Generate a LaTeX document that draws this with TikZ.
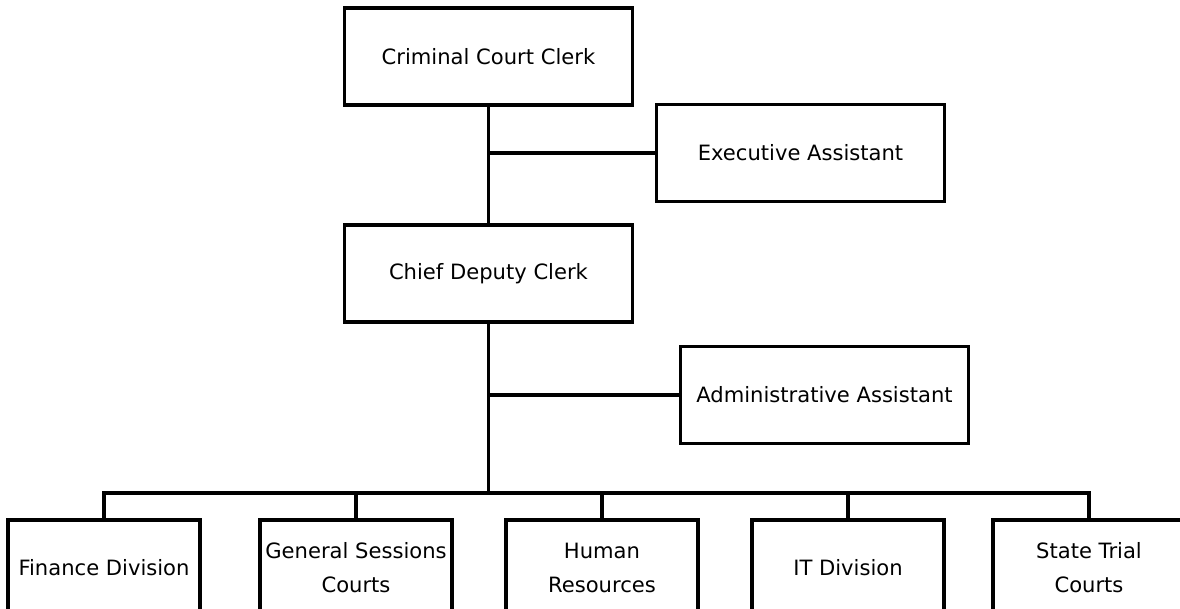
\documentclass[tikz,border=0pt]{standalone}
\usepackage{fontspec}
\setmainfont{DejaVu Sans}
\usetikzlibrary{positioning,calc}

\begin{document}
\begin{tikzpicture}[
  x=0.025cm, y=-0.025cm,
  office/.style={rectangle,draw,line width=2.2pt,minimum width=7.2cm,minimum height=2.425cm,
    inner sep=0pt,align=center,font=\fontsize{15}{24}\selectfont},
  division/.style={office,minimum width=4.8cm,minimum height=2.4cm},
  link/.style={line width=2.2pt}
]
  \useasboundingbox (0,0) rectangle (1180,609);
  \clip (0,0) rectangle (1180,609);

  % top of the chart
  \node[office] (clerk) at (488.5,56.5) {Criminal Court Clerk};
  \node[office] (chief) at (488.5,273.5) {Chief Deputy Clerk};
  \node[office] (exec) at (800.5,153) {Executive Assistant};
  \node[office] (admin) at (824.5,395) {Administrative Assistant};

  \coordinate (jexec) at (clerk.south |- exec.west);
  \coordinate (jadmin) at (clerk.south |- admin.west);
  \coordinate (bus) at (488.5,493);

  \draw[link] (clerk.south)--(chief.north);
  \draw[link] (jexec)--(exec.west);
  \draw[link] (chief.south)--(bus);
  \draw[link] (jadmin)--(admin.west);

  % divisions
  \node[division] (fin) at (104,568) {Finance Division};
  \node[division] (gsc) at (356,568) {General Sessions\\Courts};
  \node[division] (hr) at (602,568) {Human\\Resources};
  \node[division] (it) at (848,568) {IT Division};
  \node[division] (stc) at (1089,568) {State Trial\\Courts};

  \draw[link] (fin.north) |- (bus) -| (stc.north);
  \foreach \d in {gsc,hr,it}
    \draw[link] (\d.north |- bus)--(\d.north);
\end{tikzpicture}
\end{document}
